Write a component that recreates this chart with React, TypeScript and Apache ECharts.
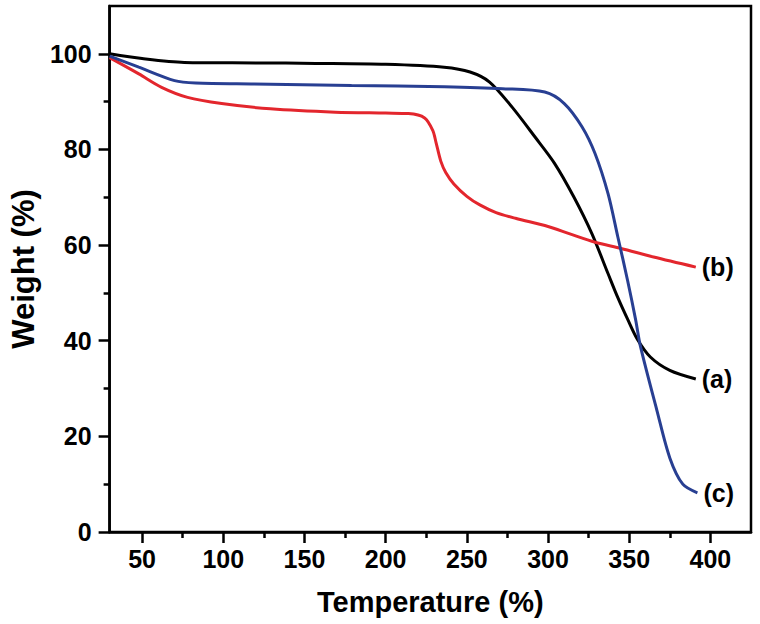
import React, { useEffect, useRef } from "react";
import * as echarts from "echarts";

// Sample (a) – black
const tempA = [30, 50, 76, 120, 157, 200, 236, 252, 264, 278, 292, 304, 316, 327, 337, 343, 349, 355, 363, 375, 391];
const weightA = [100, 99.0, 98.2, 98.1, 98.0, 97.8, 97.2, 96.2, 94.1, 88.8, 82.6, 77.1, 70, 62.4, 54, 49, 44.5, 40.3, 36.6, 33.8, 32];

// Sample (b) – red
const tempB = [30, 48, 62, 78, 99, 129, 169, 200, 214, 224, 229, 231, 234, 237, 242, 250, 258, 268, 280, 300, 313, 329, 345, 365, 391];
const weightB = [99.2, 95.8, 93, 90.9, 89.6, 88.5, 87.8, 87.6, 87.5, 86.6, 84, 81.5, 77.5, 75.2, 72.8, 70.2, 68.4, 66.8, 65.6, 63.9, 62.4, 60.6, 59.3, 57.5, 55.4];

// Sample (c) – blue
const tempC = [30, 48, 70, 83, 119, 179, 236, 272, 298, 310, 321, 329, 337, 343, 349, 354, 357, 367, 375, 383, 392];
const weightC = [99.5, 97.2, 94.4, 93.9, 93.7, 93.4, 93.1, 92.7, 92, 89.6, 84.7, 79.1, 70.7, 61.7, 52.6, 44.3, 38.7, 25.5, 15.5, 10, 8.2];

const xMajor = [50, 100, 150, 200, 250, 300, 350, 400];
const xMinor = [75, 125, 175, 225, 275, 325, 375];
const yMajor = [0, 20, 40, 60, 80, 100];
const yMinor = [10, 30, 50, 70, 90];

const seriesLabels = ["(a)", "(b)", "(c)"];
const seriesColors = ["#000000", "#e3262d", "#283f92"];

const FONT = "Liberation Sans, Arial, sans-serif";

function pairs(t: number[], w: number[]) {
  return t.map((v, i) => [v, w[i]]);
}

export default function App() {
  const ref = useRef<HTMLDivElement>(null);
  useEffect(() => {
    if (!ref.current) return;
    const chart = echarts.init(ref.current, undefined, { renderer: "svg" });
    const axisLine = { show: true, lineStyle: { color: "#000", width: 2.5 } };
    const mk = (name: string, t: number[], w: number[], color: string) => ({
      type: "line",
      name,
      data: pairs(t, w),
      smooth: 0.3,
      showSymbol: false,
      lineStyle: { color, width: 3 },
      itemStyle: { color },
      xAxisIndex: 0,
      yAxisIndex: 0,
      endLabel: {
        show: true,
        formatter: name,
        color: "#000",
        fontFamily: FONT,
        fontWeight: "bold",
        fontSize: 25,
        distance: 6,
      },
    });
    chart.setOption({
      animation: false,
      backgroundColor: "#ffffff",
      grid: {
        left: 99,
        right: 9,
        top: 6,
        bottom: 92,
        show: true,
        borderColor: "#000",
        borderWidth: 2.5,
        backgroundColor: "transparent",
      },
      xAxis: [
        {
          type: "value",
          min: 30,
          max: 425,
          position: "bottom",
          name: "Temperature (%)",
          nameLocation: "middle",
          nameGap: 55,
          nameTextStyle: { fontFamily: FONT, fontWeight: "bold", fontSize: 29, color: "#000" },
          axisLine,
          splitLine: { show: false },
          axisTick: { show: true, customValues: xMajor, length: 11, lineStyle: { color: "#000", width: 2.5 } },
          axisLabel: { customValues: xMajor, margin: 14, fontFamily: FONT, fontWeight: "bold", fontSize: 25, color: "#000" },
        },
        {
          type: "value",
          min: 30,
          max: 425,
          position: "bottom",
          axisLine: { show: false },
          splitLine: { show: false },
          axisTick: { show: true, customValues: xMinor, length: 6, lineStyle: { color: "#000", width: 2.5 } },
          axisLabel: { show: false },
        },
      ],
      yAxis: [
        {
          type: "value",
          min: 0,
          max: 110,
          position: "left",
          name: "Weight (%)",
          nameLocation: "middle",
          nameRotate: 90,
          nameGap: 62,
          nameTextStyle: { fontFamily: FONT, fontWeight: "bold", fontSize: 31, color: "#000" },
          axisLine,
          splitLine: { show: false },
          axisTick: { show: true, customValues: yMajor, length: 11, lineStyle: { color: "#000", width: 2.5 } },
          axisLabel: { customValues: yMajor, margin: 18, fontFamily: FONT, fontWeight: "bold", fontSize: 25, color: "#000" },
        },
        {
          type: "value",
          min: 0,
          max: 110,
          position: "left",
          axisLine: { show: false },
          splitLine: { show: false },
          axisTick: { show: true, customValues: yMinor, length: 6, lineStyle: { color: "#000", width: 2.5 } },
          axisLabel: { show: false },
        },
      ],
      series: [
        mk(seriesLabels[0], tempA, weightA, seriesColors[0]),
        mk(seriesLabels[1], tempB, weightB, seriesColors[1]),
        mk(seriesLabels[2], tempC, weightC, seriesColors[2]),
      ],
    });
    return () => chart.dispose();
  }, []);
  return <div ref={ref} style={{ position: "absolute", left: 0, top: 0, width: 760, height: 624 }} />;
}
